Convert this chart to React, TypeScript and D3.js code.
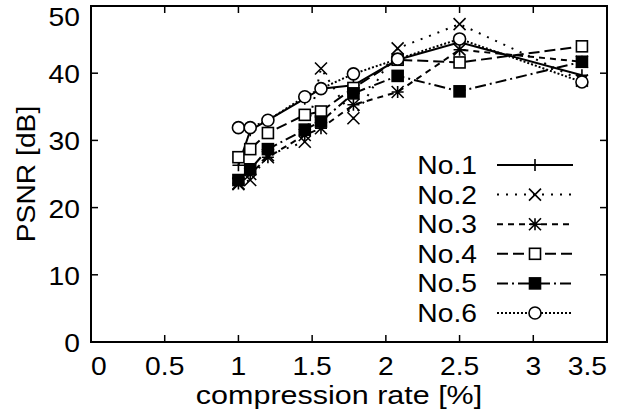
import React from 'react';
import * as d3 from 'd3';

// compression rate [%] for each measured point
const rates = [1.0, 1.08, 1.2, 1.45, 1.56, 1.78, 2.08, 2.5, 3.33];

// PSNR [dB] for each image
const no1 = [26.3, 31.5, 33.0, 36.2, 37.7, 38.2, 42.0, 44.6, 39.7];
const no2 = [23.5, 24.1, 27.8, 29.8, 40.7, 33.3, 43.7, 47.3, 38.9];
const no3 = [23.6, 25.0, 27.5, 30.8, 31.8, 35.3, 37.2, 43.5, 41.7];
const no4 = [27.5, 28.7, 31.1, 33.8, 34.3, 37.8, 42.0, 41.6, 44.0];
const no5 = [24.1, 25.7, 28.7, 31.6, 32.8, 37.0, 39.6, 37.3, 41.7];
const no6 = [31.9, 31.9, 33.0, 36.5, 37.7, 39.9, 42.1, 45.1, 38.7];

const seriesNames = ['No.1', 'No.2', 'No.3', 'No.4', 'No.5', 'No.6'];
const xTicks = [0, 0.5, 1, 1.5, 2, 2.5, 3, 3.5];
const yTicks = [0, 10, 20, 30, 40, 50];

const W = 628;
const H = 416;
const FONT = '"Liberation Sans", Arial, Helvetica, sans-serif';
const STRETCH = 1.13; // the original font is a little wider than Arial

const styles = [
  { dash: null, marker: 'plus' },
  { dash: '2,7', marker: 'cross' },
  { dash: '6,5', marker: 'star' },
  { dash: '11,5', marker: 'box' },
  { dash: '11,4,2,4', marker: 'fbox' },
  { dash: '2,2', marker: 'circle' },
];

const Marker = ({ type, x, y }) => {
  const s = 6;
  const common = { stroke: '#000', strokeWidth: 1.6 };
  if (type === 'plus')
    return <path d={`M${x - s},${y}H${x + s}M${x},${y - s}V${y + s}`} {...common} />;
  if (type === 'cross')
    return <path d={`M${x - s},${y - s}L${x + s},${y + s}M${x - s},${y + s}L${x + s},${y - s}`} {...common} />;
  if (type === 'star')
    return (
      <path
        d={`M${x - s},${y}H${x + s}M${x},${y - s}V${y + s}M${x - s},${y - s}L${x + s},${y + s}M${x - s},${y + s}L${x + s},${y - s}`}
        {...common}
      />
    );
  if (type === 'box')
    return <rect x={x - 5.5} y={y - 5.5} width={11} height={11} fill="#fff" {...common} />;
  if (type === 'fbox')
    return <rect x={x - 5.5} y={y - 5.5} width={11} height={11} fill="#000" {...common} />;
  return <circle cx={x} cy={y} r={6} fill="#fff" {...common} />;
};

const Txt = ({ x, y, anchor = 'middle', rotate = 0, size = 25, stretch = STRETCH, children }) => (
  <text
    transform={`translate(${x},${y}) rotate(${rotate}) scale(${stretch},1)`}
    textAnchor={anchor}
    fontFamily={FONT}
    fontSize={size}
    fill="#000"
  >
    {children}
  </text>
);

export default function App() {
  const margin = { left: 91, right: 21, top: 6, bottom: 74 };
  const x = d3.scaleLinear().domain([0, 3.5]).range([margin.left, W - margin.right]);
  const y = d3.scaleLinear().domain([0, 50]).range([H - margin.bottom, margin.top]);
  const [x0, x1] = x.range();
  const [y0, y1] = y.range();

  const data = [no1, no2, no3, no4, no5, no6];
  const line = d3
    .line<number>()
    .x((_, i) => x(rates[i]))
    .y((d) => y(d));

  const legendX = 477;
  const legendY = 165;
  const legendStep = 29.6;

  return (
    <svg width={W} height={H} style={{ position: 'absolute', left: 0, top: 0, background: '#fff' }}>
      {/* ticks on all four sides */}
      {xTicks.map((t) => (
        <g key={'xt' + t}>
          <line x1={x(t)} x2={x(t)} y1={y0} y2={y0 - 7} stroke="#000" strokeWidth={1.5} />
          <line x1={x(t)} x2={x(t)} y1={y1} y2={y1 + 7} stroke="#000" strokeWidth={1.5} />
          <Txt x={x(t)} y={375} anchor={t === 0 ? 'start' : t === 3.5 ? 'end' : 'middle'}>
            {String(t)}
          </Txt>
        </g>
      ))}
      {yTicks.map((t) => (
        <g key={'yt' + t}>
          <line x1={x0} x2={x0 + 7} y1={y(t)} y2={y(t)} stroke="#000" strokeWidth={1.5} />
          <line x1={x1} x2={x1 - 7} y1={y(t)} y2={y(t)} stroke="#000" strokeWidth={1.5} />
          <Txt x={80} y={Math.max(y(t) + 10, 26)} anchor="end">
            {String(t)}
          </Txt>
        </g>
      ))}

      {/* series */}
      {data.map((vals, si) => (
        <g key={'s' + si}>
          <path
            d={line(vals)}
            fill="none"
            stroke="#000"
            strokeWidth={2}
            strokeDasharray={styles[si].dash || undefined}
          />
          {vals.map((v, i) => (
            <Marker key={i} type={styles[si].marker} x={x(rates[i])} y={y(v)} />
          ))}
        </g>
      ))}

      {/* legend */}
      {seriesNames.map((name, i) => {
        const ly = legendY + i * legendStep;
        return (
          <g key={'lg' + name}>
            <Txt x={legendX} y={ly + 9} anchor="end">
              {name}
            </Txt>
            <line
              x1={497}
              x2={573}
              y1={ly}
              y2={ly}
              stroke="#000"
              strokeWidth={2}
              strokeDasharray={styles[i].dash || undefined}
            />
            <Marker type={styles[i].marker} x={535} y={ly} />
          </g>
        );
      })}

      {/* frame */}
      <rect x={x0} y={y1} width={x1 - x0} height={y0 - y1} fill="none" stroke="#000" strokeWidth={2} />

      <Txt x={339} y={404} stretch={1.22}>compression rate [%]</Txt>
      <Txt x={35} y={174} rotate={-90}>PSNR [dB]</Txt>
    </svg>
  );
}
